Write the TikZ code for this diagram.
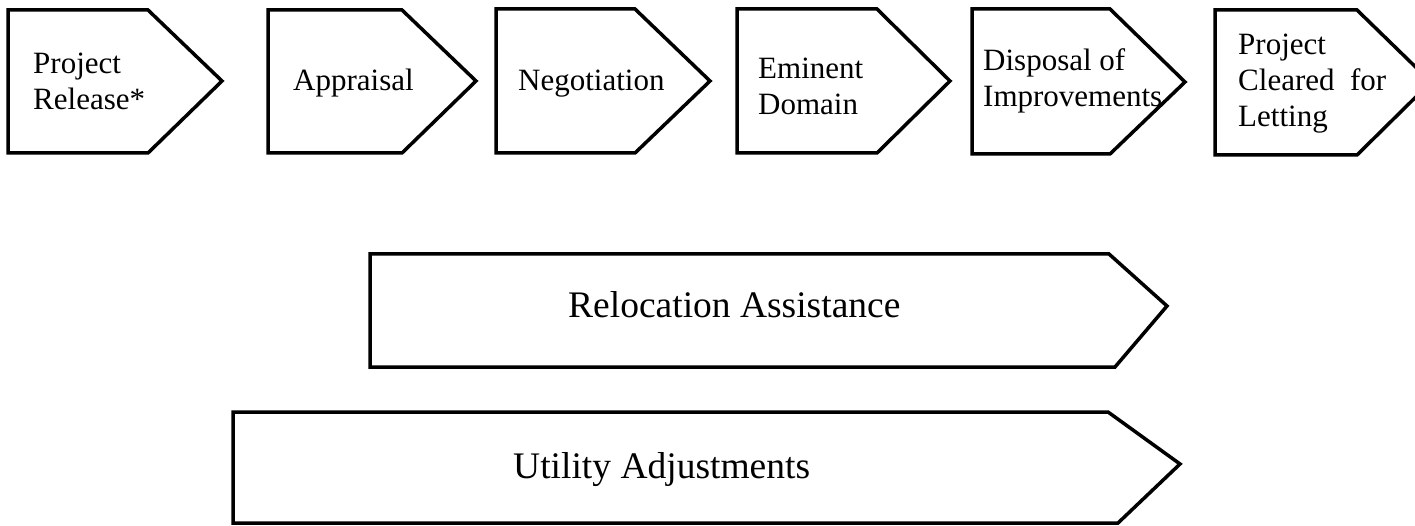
\documentclass[tikz,border=0pt]{standalone}
\usepackage{fontspec}
\setmainfont{Liberation Serif}
\begin{document}
\begin{tikzpicture}[x=1pt,y=-1pt,
  chev/.style={draw=black, line width=3.5pt, line join=miter},
  lbl/.style={font=\fontsize{31}{36}\selectfont, align=left, inner sep=0pt},
  biglbl/.style={font=\fontsize{37.5}{42}\selectfont, inner sep=0pt}]
\useasboundingbox (0,0) rectangle (1415,526);
\clip (0,0) rectangle (1415,526);
% top row of step chevrons
\draw[chev] (8,10) -- (148,10) -- (222,81) -- (148,153) -- (8,153) -- cycle;
\draw[chev] (268,10) -- (402,10) -- (476,81) -- (402,153) -- (268,153) -- cycle;
\draw[chev] (496,9) -- (635,9) -- (710,81) -- (635,153) -- (496,153) -- cycle;
\draw[chev] (737,9) -- (877,9) -- (950,81) -- (877,153) -- (737,153) -- cycle;
\draw[chev] (972,9) -- (1110,9) -- (1185,82) -- (1110,154) -- (972,154) -- cycle;
\draw[chev] (1215,10) -- (1357,10) -- (1431,82) -- (1357,155) -- (1215,155) -- cycle;
% labels
\node[lbl, anchor=west] (release) at (33,81) {Project\\Release*};
\node[lbl, anchor=base west] (appraisal) at (293,91) {Appraisal};
\node[lbl, anchor=base west] (negotiation) at (518,91) {Negotiation};
\node[lbl, anchor=west] (eminent) at (758,86) {Eminent\\Domain};
\node[lbl, anchor=west] (disposal) at (983,81) {Disposal of\\Improvements};
\node[lbl, anchor=west] (cleared) at (1238,84) {Project\\Cleared\hspace{0.5em}for\\Letting};
% long chevrons
\draw[chev] (370,254) -- (1109,254) -- (1167,306) -- (1115,367) -- (370,367) -- cycle;
\draw[chev] (233,412) -- (1108,412) -- (1180,464) -- (1118,523) -- (233,523) -- cycle;
\node[biglbl, anchor=base west] (relocation) at (568,318) {Relocation Assistance};
\node[biglbl, anchor=base west] (utility) at (513,478) {Utility Adjustments};
\end{tikzpicture}
\end{document}
